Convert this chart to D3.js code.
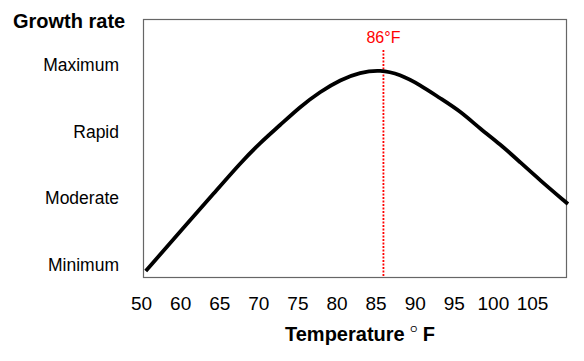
<!DOCTYPE html>
<html>
<head>
<meta charset="utf-8">
<script src="https://cdn.jsdelivr.net/npm/d3@7"></script>
<style>
  body { margin: 0; background: #fff; }
  text { font-family: Arial, "Liberation Sans", sans-serif; }
</style>
</head>
<body>
<div id="container"></div>
<script>
const dimensions = {
	width: 584,
	height: 361,
	margin: { left: 143, right: 18, top: 19, bottom: 84 }
}

// growth levels (0 = Minimum ... 3 = Maximum)
const levelNames = ["Minimum", "Moderate", "Rapid", "Maximum"];
const levelValues = [0, 1, 2, 3];

// x tick labels as printed (first label sits where 55 would be)
const xTickValues = [55, 60, 65, 70, 75, 80, 85, 90, 95, 100, 105];
const xTickLabels = ["50", "60", "65", "70", "75", "80", "85", "90", "95", "100", "105"];

// curve
const temps  = [55.6, 60.0, 64.5, 67.7, 70.2, 72.8, 75.3, 77.9, 80.5, 83.0, 85.6, 88.1, 90.7, 93.2, 95.8, 98.4, 100.9, 103.5, 106.0, 109.6];
const levels = [-0.09, 0.50, 1.10, 1.53, 1.83, 2.10, 2.37, 2.60, 2.78, 2.89, 2.93, 2.86, 2.70, 2.505, 2.31, 2.04, 1.815, 1.54, 1.275, 0.915];

const optimumTemp = 86;

const svg = d3.select("#container")
	.append("svg")
	.attr("width", dimensions.width)
	.attr("height", dimensions.height)

const plotLeft = dimensions.margin.left;
const plotRight = dimensions.width - dimensions.margin.right;
const plotTop = dimensions.margin.top;
const plotBottom = dimensions.height - dimensions.margin.bottom;

const x = d3.scaleLinear().domain([55.25, 109.35]).range([plotLeft, plotRight]);
const y = d3.scaleLinear().domain([-0.18, 3.69]).range([plotBottom, plotTop]);

// frame
svg.append("rect")
	.attr("x", plotLeft + 0.5)
	.attr("y", plotTop + 0.5)
	.attr("width", plotRight - plotLeft)
	.attr("height", plotBottom - plotTop)
	.attr("fill", "none")
	.attr("stroke", "#666")
	.attr("stroke-width", 1.2)

// x axis labels
const xAxis = d3.axisBottom(x)
	.tickValues(xTickValues)
	.tickFormat((d, i) => xTickLabels[i])
	.tickSize(0)
	.tickPadding(20)

const gx = svg.append("g")
	.attr("transform", `translate(0, ${plotBottom})`)
	.call(xAxis)
gx.select(".domain").remove()
gx.selectAll("text")
	.attr("font-size", 19)
	.attr("font-family", "Arial, 'Liberation Sans', sans-serif")
	.attr("fill", "#000")

// y axis labels
const yAxis = d3.axisLeft(y)
	.tickValues(levelValues)
	.tickFormat((d, i) => levelNames[i])
	.tickSize(0)
	.tickPadding(24)

const gy = svg.append("g")
	.attr("transform", `translate(${plotLeft}, 0)`)
	.call(yAxis)
gy.select(".domain").remove()
gy.selectAll("text")
	.attr("font-size", 17.5)
	.attr("font-family", "Arial, 'Liberation Sans', sans-serif")
	.attr("fill", "#000")

// optimum marker
svg.append("line")
	.attr("x1", x(optimumTemp))
	.attr("x2", x(optimumTemp))
	.attr("y1", 50)
	.attr("y2", plotBottom)
	.attr("stroke", "#ff0000")
	.attr("stroke-width", 1.8)
	.attr("stroke-dasharray", "2,1.5")

svg.append("text")
	.attr("x", x(optimumTemp))
	.attr("y", 43)
	.attr("text-anchor", "middle")
	.attr("font-size", 16)
	.attr("fill", "#ff0000")
	.text(optimumTemp + "°F")

// growth curve (smoothed through the read points)
const line = d3.line()
	.x((d, i) => x(temps[i]))
	.y(d => y(d))
	.curve(d3.curveBasis)

svg.append("path")
	.attr("d", line(levels))
	.attr("fill", "none")
	.attr("stroke", "#000")
	.attr("stroke-width", 3.8)
	.attr("stroke-linecap", "butt")

// titles
svg.append("text")
	.attr("x", 13)
	.attr("y", 28)
	.attr("font-size", 20)
	.attr("font-weight", "bold")
	.text("Growth rate")

const xTitle = svg.append("text")
	.attr("x", 285)
	.attr("y", 341)
	.attr("font-size", 20)
	.attr("font-weight", "bold")
xTitle.append("tspan").text("Temperature ")
xTitle.append("tspan")
	.attr("font-size", 9)
	.attr("font-weight", "normal")
	.attr("dy", -9)
	.text("O")
xTitle.append("tspan")
	.attr("dy", 9)
	.text(" F")
</script>
</body>
</html>
